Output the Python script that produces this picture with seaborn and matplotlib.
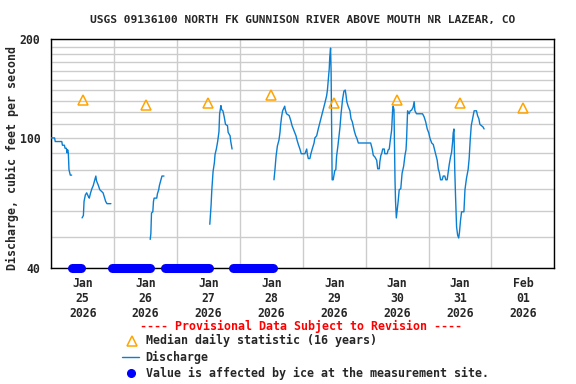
import pandas as pd
import matplotlib
matplotlib.use('Agg')
import matplotlib.pyplot as plt
import matplotlib.dates as mdates
from matplotlib.lines import Line2D
from matplotlib.ticker import FixedLocator, NullFormatter
import seaborn as sns

start = pd.Timestamp('2026-01-25 00:00')

# discharge runs: hours after Jan 25 00:00, cfs (gaps = ice affected)
seg1_h = [0, 1.25, 1.5, 4.0, 4.25, 5.0, 5.25, 5.75, 6.0, 6.25, 6.5, 6.75, 7.25, 7.75]
seg1_cfs = [100, 100, 97.5, 97.5, 95, 95, 93, 93, 90, 92, 90, 80, 77, 77]

seg2_h = [11.75, 12.25, 12.5, 13.0, 13.5, 14.25, 14.5, 15.0, 15.5, 16.0, 16.5, 17.0,
          17.25, 18.0, 18.5, 19.75, 20.25, 20.75, 21.25, 22.75]
seg2_cfs = [57, 58, 64, 67, 68, 66, 65.5, 68, 70, 71.5, 74, 76.5,
            74, 71.5, 69.5, 68, 66, 64, 63, 63]

seg3_h = [37.75, 38.0, 38.25, 38.75, 39.0, 39.25, 40.25, 40.5, 41.0, 41.25, 41.75, 42.25, 43.0]
seg3_cfs = [49, 51, 59, 59.5, 64, 65.5, 65.5, 67.5, 69.5, 71.5, 74, 76.5, 76.5]

seg4_h = [60.5, 61.0, 61.25, 61.75, 62.25, 62.5, 63.0, 63.5, 64.0, 64.25, 64.5, 64.75,
          65.0, 65.5, 66.0, 66.5, 67.25, 67.5, 68.25, 68.5, 69.0]
seg4_cfs = [54.5, 62.5, 69, 79, 84, 89, 92.5, 97.5, 104.5, 118.5, 122, 125.5,
            122, 121, 116, 110, 109, 104, 101.5, 97.5, 92.5]

seg5_h = [85.0, 85.4, 85.8, 86.3, 86.9, 87.3, 87.5, 87.9, 88.3, 88.8, 89.1, 89.3, 89.8,
          90.8, 91.4, 91.9, 92.4, 92.9, 93.4, 93.8, 94.3, 94.9, 95.4, 96.8, 97.5, 97.7,
          98.1, 98.7, 99.1, 99.6, 100.3, 100.6, 101.3, 101.9, 102.6, 103.2, 103.8, 104.4,
          105.1, 105.4, 105.8, 106.1, 106.3, 106.6, 106.8, 107.2, 107.6, 108.2, 108.6,
          108.9, 109.4, 109.8, 110.2, 110.6, 110.9, 111.2, 111.7, 112.2, 112.5, 112.8,
          113.3, 114.0, 114.4, 114.9, 115.3, 115.6, 116.2, 116.6, 117.2, 121.9, 122.5,
          122.9, 123.5, 124.2, 124.6, 125.2, 125.4, 125.8, 126.1, 126.5, 127.1, 127.3,
          128.2, 128.6, 129.0, 129.4, 129.9, 130.3, 130.5, 130.8, 131.2, 131.4, 131.7,
          132.0, 132.4, 132.8, 133.4, 133.9, 134.5, 135.0, 135.4, 135.6, 136.0, 136.6,
          137.0, 137.5, 138.1, 138.5, 138.8, 139.4, 141.7, 142.3, 142.9, 143.5, 144.1,
          144.5, 145.2, 145.8, 146.3, 146.8, 147.3, 147.7, 148.1, 148.6, 149.2, 149.6,
          150.2, 150.6, 151.1, 151.5, 151.9, 152.4, 152.8, 153.2, 153.4, 153.7, 153.8,
          154.0, 154.3, 154.7, 155.1, 155.5, 155.8, 156.2, 156.6, 157.5, 157.9, 158.5,
          159.1, 159.5, 159.9, 160.3, 160.8, 161.4, 162.3, 162.7, 163.2, 163.6, 164.2,
          164.8, 165.2]
seg5_cfs = [74.5, 80.5, 88, 94.5, 98.5, 104, 109, 116, 121, 123.5, 125, 122, 118.5,
            117, 113, 109, 106.5, 104, 101.5, 98.5, 95.5, 92.5, 89.5, 89.5, 92.5, 89.5,
            86.5, 86.5, 89.5, 92.5, 96.5, 100, 101.5, 106.5, 112, 117, 122, 127.5,
            134.5, 140, 152, 163, 177, 188, 160, 74.5, 74.5, 79.5, 80,
            88, 94.5, 101, 108, 118.5, 125, 131.5, 139, 140, 135, 129,
            125, 121, 114.5, 112, 108, 105.5, 101.5, 100, 96.5, 96.5, 92.5,
            88.5, 87.5, 85.5, 80.5, 80.5, 84.5, 88.5, 89.5, 92.5, 92.5, 89.5,
            89.5, 92, 92.5, 98.5, 105.5, 122, 125, 122, 74, 64, 57,
            60, 64, 69.5, 70, 78, 82, 88.5, 92, 98.5, 121, 118.5,
            121, 121.5, 124, 129, 121, 118.5, 118.5, 116, 112, 106.5, 103.5,
            100, 96.5, 95.5, 92, 88.5, 85.5, 80.5, 78.5, 74.5, 74.5, 76.5,
            76.5, 74.5, 74.5, 78.5, 83, 87.5, 90.5, 97.5, 103.5, 106.5, 96.5,
            80, 66.5, 53.5, 50.5, 49.5, 51.5, 56, 59.5, 59.5, 69.5, 75.5,
            80, 86.5, 98.5, 109, 114.5, 121, 121, 117, 114.5, 110, 109,
            108, 106.5]

# median daily statistic, one per day at noon
median_days = ['2026-01-25', '2026-01-26', '2026-01-27', '2026-01-28',
               '2026-01-29', '2026-01-30', '2026-01-31', '2026-02-01']
median_cfs = [131, 126, 127.5, 135, 127.5, 131, 127.5, 123]

# ice affected periods, hours after Jan 25 00:00
ice_start = [8.0, 23.0, 43.25, 69.25]
ice_end = [11.5, 37.5, 60.25, 84.75]

day_labels = ['Jan\n25\n2026', 'Jan\n26\n2026', 'Jan\n27\n2026', 'Jan\n28\n2026',
              'Jan\n29\n2026', 'Jan\n30\n2026', 'Jan\n31\n2026', 'Feb\n01\n2026']

segs = [(seg1_h, seg1_cfs), (seg2_h, seg2_cfs), (seg3_h, seg3_cfs),
        (seg4_h, seg4_cfs), (seg5_h, seg5_cfs)]
parts = []
for i, (h, v) in enumerate(segs):
    parts.append(pd.DataFrame({'time': start + pd.to_timedelta(h, unit='h'),
                               'cfs': v, 'seg': i}))
df = pd.concat(parts, ignore_index=True)

med = pd.DataFrame({'time': pd.to_datetime(median_days) + pd.Timedelta(hours=12),
                    'cfs': median_cfs})

sns.set_theme(style='white')
plt.rcParams['font.family'] = ['DejaVu Sans Mono']
plt.rcParams['font.weight'] = 'bold'

line_col = '#0a7fd2'
tri_col = '#ffa500'
ice_col = '#0000ff'

fig = plt.figure(figsize=(5.76, 3.84), dpi=100)
ax = fig.add_axes([51.3 / 576, 1 - 268.3 / 384, 503 / 576, 229 / 384])

sns.lineplot(data=df, x='time', y='cfs', units='seg', estimator=None,
             color=line_col, linewidth=1.0, ax=ax, zorder=3)
ax.plot(med['time'], med['cfs'], linestyle='none', marker='^', ms=7.5,
        mfc='none', mec=tri_col, mew=1.1, zorder=4)

for s, e in zip(ice_start, ice_end):
    ax.plot([start + pd.Timedelta(hours=s), start + pd.Timedelta(hours=e)],
            [40, 40], color=ice_col, linewidth=6.5, solid_capstyle='round',
            clip_on=False, zorder=5)

ax.set_yscale('log')
ax.set_ylim(40, 200)
ax.set_xlim(start, start + pd.Timedelta(days=8))

ax.yaxis.set_major_locator(FixedLocator([40, 100, 200]))
ax.yaxis.set_major_formatter(plt.FixedFormatter(['40', '100', '200']))
ax.yaxis.set_minor_locator(FixedLocator(list(range(50, 200, 10))))
ax.yaxis.set_minor_formatter(NullFormatter())

ax.xaxis.set_major_locator(mdates.HourLocator(byhour=12))
ax.xaxis.set_major_formatter(plt.FixedFormatter(day_labels))
ax.xaxis.set_minor_locator(mdates.DayLocator())

ax.grid(True, which='minor', color='#cccccc', linewidth=1.0)
ax.grid(True, which='major', axis='y', color='#cccccc', linewidth=1.0)
ax.set_axisbelow(True)
ax.tick_params(axis='both', which='both', length=0, labelsize=8.3)
ax.tick_params(axis='x', pad=6)
ax.tick_params(axis='y', pad=8)
for lab in ax.get_xticklabels() + ax.get_yticklabels():
    lab.set_fontweight('bold')
for sp in ax.spines.values():
    sp.set_color('black')
    sp.set_linewidth(1.0)
ax.set_xlabel('')
ax.set_ylabel('')

def fx(x):
    return x / 576

def fy(y):
    return 1 - y / 384

fig.text(fx(302.8), fy(20), 'USGS 09136100 NORTH FK GUNNISON RIVER ABOVE MOUTH NR LAZEAR, CO',
         ha='center', va='center', fontsize=8.1, fontweight='bold')
fig.text(fx(12), fy(158), 'Discharge, cubic feet per second', rotation=90,
         ha='center', va='center', fontsize=8.4, fontweight='bold')

fig.text(fx(301.5), fy(326.7), '---- Provisional Data Subject to Revision ----',
         ha='center', va='center', fontsize=8.4, fontweight='bold', color='red')
fig.add_artist(Line2D([fx(131.7)], [fy(340.7)], marker='^', ms=7.5, mfc='none',
                      mec=tri_col, mew=1.1, transform=fig.transFigure))
fig.add_artist(Line2D([fx(122), fx(139.3)], [fy(357.3), fy(357.3)], color=line_col,
                      linewidth=1.0, transform=fig.transFigure))
fig.add_artist(Line2D([fx(131)], [fy(373.3)], marker='o', ms=5.5, color=ice_col,
                      transform=fig.transFigure))
fig.text(fx(145.7), fy(340.7), 'Median daily statistic (16 years)',
         ha='left', va='center', fontsize=8.4, fontweight='bold')
fig.text(fx(145.7), fy(357.3), 'Discharge',
         ha='left', va='center', fontsize=8.4, fontweight='bold')
fig.text(fx(145.7), fy(373.3), 'Value is affected by ice at the measurement site.',
         ha='left', va='center', fontsize=8.4, fontweight='bold')

fig.savefig('out.png', dpi=100)
